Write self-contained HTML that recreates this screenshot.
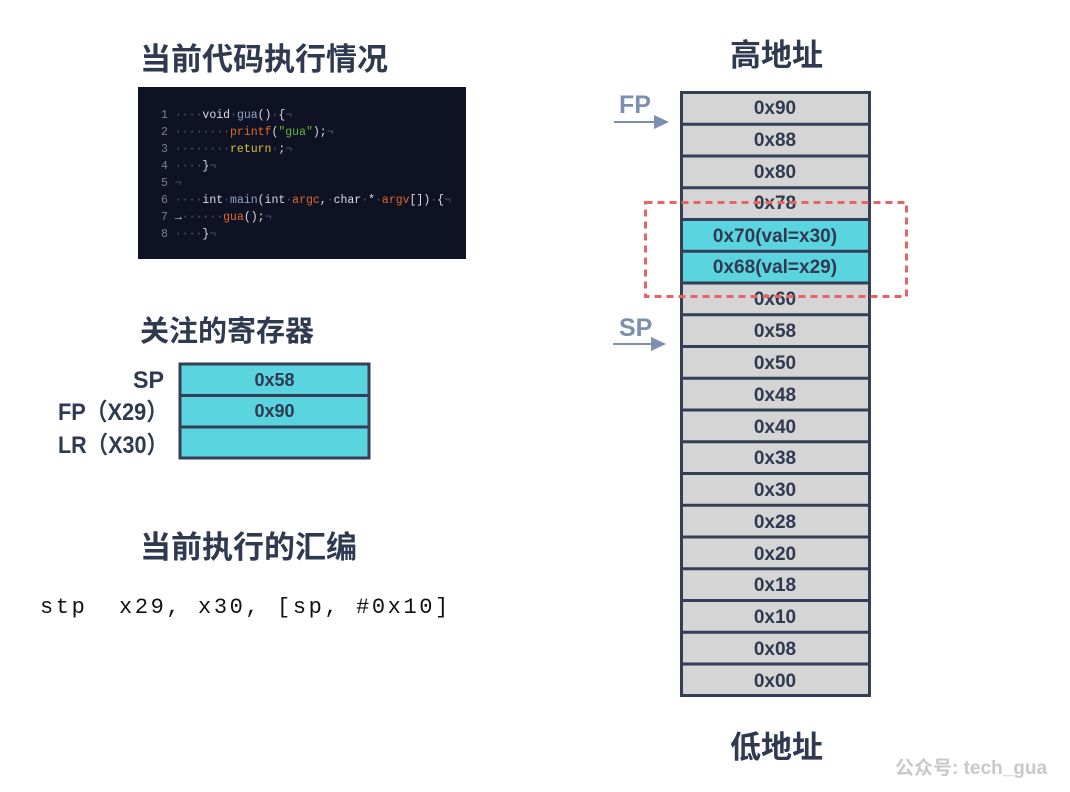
<!DOCTYPE html>
<html><head><meta charset="utf-8"><style>
body{margin:0;width:1070px;height:792px;background:#fff;overflow:hidden;position:relative;font-family:"Liberation Sans","Noto Sans CJK SC",sans-serif;}
.t{position:absolute;font-weight:bold;color:#2f3a50;}
</style></head><body>
<div class="t" style="left:140px;top:34px;font-size:31px;">当前代码执行情况</div>
<div class="t" style="left:140px;top:308px;font-size:29px;">关注的寄存器</div>
<div class="t" style="left:140px;top:522px;font-size:31px;">当前执行的汇编</div>
<div class="t" style="left:730px;top:30px;font-size:31px;">高地址</div>
<div class="t" style="left:730px;top:722px;font-size:31px;">低地址</div>
<div style="position:absolute;left:40px;top:595px;font-family:'Liberation Mono',monospace;font-size:22px;letter-spacing:2.6px;color:#111;white-space:pre;">stp  x29, x30, [sp, #0x10]</div>
<div style="position:absolute;left:895px;top:753px;font-size:19px;font-weight:bold;color:#c8c8c8;white-space:nowrap;">公众号: tech_gua</div>

<svg width="1070" height="792" style="position:absolute;left:0;top:0" font-family="Liberation Sans, Noto Sans CJK SC, sans-serif">
<rect x="138" y="87" width="328" height="172" fill="#0f1222"/>
<g font-family="Liberation Mono, monospace" font-size="11.5" fill="#d8dce6">
<text x="161" y="118"><tspan fill="#7a8090">1 </tspan><tspan fill="#4c5a80">····</tspan>void<tspan fill="#4c5a80">·</tspan><tspan fill="#8fa3d0">gua</tspan>()<tspan fill="#4c5a80">·</tspan>{<tspan fill="#4c5a80">¬</tspan></text>
<text x="161" y="135"><tspan fill="#7a8090">2 </tspan><tspan fill="#4c5a80">········</tspan><tspan fill="#e0692a">printf</tspan>(<tspan fill="#5fb83a">"gua"</tspan>);<tspan fill="#4c5a80">¬</tspan></text>
<text x="161" y="152"><tspan fill="#7a8090">3 </tspan><tspan fill="#4c5a80">········</tspan><tspan fill="#d8c43a">return</tspan><tspan fill="#4c5a80">·</tspan>;<tspan fill="#4c5a80">¬</tspan></text>
<text x="161" y="169"><tspan fill="#7a8090">4 </tspan><tspan fill="#4c5a80">····</tspan>}<tspan fill="#4c5a80">¬</tspan></text>
<text x="161" y="186"><tspan fill="#7a8090">5 </tspan><tspan fill="#4c5a80">¬</tspan></text>
<text x="161" y="203"><tspan fill="#7a8090">6 </tspan><tspan fill="#4c5a80">····</tspan>int<tspan fill="#4c5a80">·</tspan><tspan fill="#8fa3d0">main</tspan>(int<tspan fill="#4c5a80">·</tspan><tspan fill="#e0692a">argc</tspan>,<tspan fill="#4c5a80">·</tspan>char<tspan fill="#4c5a80">·</tspan>*<tspan fill="#4c5a80">·</tspan><tspan fill="#e0692a">argv</tspan>[])<tspan fill="#4c5a80">·</tspan>{<tspan fill="#4c5a80">¬</tspan></text>
<text x="161" y="220"><tspan fill="#7a8090">7 </tspan>→<tspan fill="#4c5a80">······</tspan><tspan fill="#e0692a">gua</tspan>();<tspan fill="#4c5a80">¬</tspan></text>
<text x="161" y="237"><tspan fill="#7a8090">8 </tspan><tspan fill="#4c5a80">····</tspan>}<tspan fill="#4c5a80">¬</tspan></text>
</g>

<g font-weight="bold" fill="#2f3a50" font-size="24">
<text x="133" y="388" textLength="31" lengthAdjust="spacingAndGlyphs">SP</text>
<text x="58" y="420" textLength="110" lengthAdjust="spacingAndGlyphs">FP（X29）</text>
<text x="58" y="453" textLength="110" lengthAdjust="spacingAndGlyphs">LR（X30）</text>
</g>
<g stroke="#343e56" stroke-width="3" fill="#5ad5e0">
<rect x="180" y="364" width="189" height="94"/>
<line x1="180" y1="395.5" x2="369" y2="395.5"/>
<line x1="180" y1="427" x2="369" y2="427"/>
</g>
<g font-weight="bold" fill="#2f3a50" font-size="18" text-anchor="middle">
<text x="274.5" y="386">0x58</text>
<text x="274.5" y="417">0x90</text>
</g>

<g fill="#d5d5d5" stroke="#343e56" stroke-width="3">
<rect x="681.5" y="92.5" width="188" height="603"/>
</g>
<g fill="#5ad5e0"><rect x="683" y="220.5" width="185" height="29.5"/><rect x="683" y="252" width="185" height="30"/></g>
<g stroke="#343e56" stroke-width="3">
<line x1="681" y1="124.2" x2="870" y2="124.2"/><line x1="681" y1="156" x2="870" y2="156"/><line x1="681" y1="187.7" x2="870" y2="187.7"/><line x1="681" y1="219.5" x2="870" y2="219.5"/><line x1="681" y1="251.2" x2="870" y2="251.2"/><line x1="681" y1="283" x2="870" y2="283"/><line x1="681" y1="314.7" x2="870" y2="314.7"/><line x1="681" y1="346.5" x2="870" y2="346.5"/><line x1="681" y1="378.2" x2="870" y2="378.2"/><line x1="681" y1="410" x2="870" y2="410"/><line x1="681" y1="441.7" x2="870" y2="441.7"/><line x1="681" y1="473.5" x2="870" y2="473.5"/><line x1="681" y1="505.2" x2="870" y2="505.2"/><line x1="681" y1="537" x2="870" y2="537"/><line x1="681" y1="568.7" x2="870" y2="568.7"/><line x1="681" y1="600.5" x2="870" y2="600.5"/><line x1="681" y1="632.2" x2="870" y2="632.2"/><line x1="681" y1="664" x2="870" y2="664"/>
</g>
<g font-weight="bold" fill="#2f3a50" font-size="19" text-anchor="middle">
<text x="775" y="114">0x90</text><text x="775" y="146">0x88</text><text x="775" y="178">0x80</text><text x="775" y="209">0x78</text>
<text x="775" y="242">0x70(val=x30)</text><text x="775" y="273">0x68(val=x29)</text>
<text x="775" y="305">0x60</text><text x="775" y="337">0x58</text><text x="775" y="369">0x50</text><text x="775" y="401">0x48</text><text x="775" y="433">0x40</text><text x="775" y="464">0x38</text><text x="775" y="496">0x30</text><text x="775" y="528">0x28</text><text x="775" y="560">0x20</text><text x="775" y="591">0x18</text><text x="775" y="623">0x10</text><text x="775" y="655">0x08</text><text x="775" y="687">0x00</text>
</g>
<rect x="645.5" y="202.5" width="261" height="94" fill="none" stroke="#e56565" stroke-width="3" stroke-dasharray="7,5"/>

<g fill="#7b8fb0" font-weight="bold" font-size="25">
<text x="619" y="113">FP</text><text x="619" y="336">SP</text>
</g>
<g stroke="#7b8fb0" stroke-width="2"><line x1="614" y1="122" x2="656" y2="122"/><line x1="613" y1="344" x2="653" y2="344"/></g>
<g fill="#7b8fb0"><polygon points="654,115 669,122 654,129"/><polygon points="651,337 666,344 651,351"/></g>
</svg>
</body></html>
